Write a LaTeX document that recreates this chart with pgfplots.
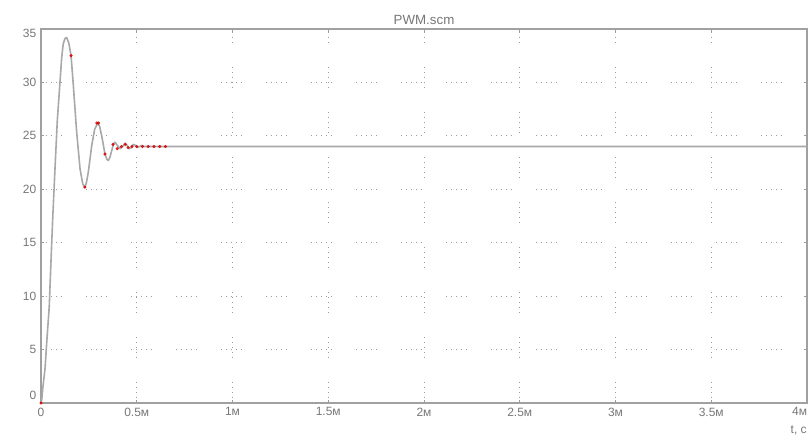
\documentclass[border=0pt]{standalone}
\usepackage{fontspec}
\setmainfont{Liberation Sans}
\usepackage{pgfplots}
\pgfplotsset{compat=1.18}
\definecolor{txt}{HTML}{777777}
\definecolor{frm}{HTML}{A0A0A0}
\definecolor{crv}{HTML}{A8A8A8}
\definecolor{grd}{HTML}{9A9A9A}
\begin{document}
\begin{tikzpicture}
\begin{axis}[
  scale only axis,
  width=574.5pt, height=280.5pt,
  xmin=0, xmax=4, ymin=0, ymax=35,
  axis line style={frm, line width=1.4pt},
  xtick={0,0.5,1,1.5,2,2.5,3,3.5,4},
  xticklabels={0,0.5м,1м,1.5м,2м,2.5м,3м,3.5м,\makebox[0pt][r]{4м}},
  ytick={0,5,10,15,20,25,30,35},
  yticklabels={\smash{\raisebox{2.5pt}{0}},5,10,15,20,25,30,\smash{\raisebox{-6.5pt}{35}}},
  tick align=inside,
  major tick length=2pt,
  tick style={grd, line width=0.6pt},
  ticklabel style={font=\fontsize{9}{10}\selectfont, text=txt},
  /pgf/number format/assume math mode=true,
  grid=major,
  major grid style={grd, line width=0.7pt, dash pattern=on 0.75pt off 3pt on 0.75pt off 3pt on 0.75pt off 3pt on 0.75pt off 3pt on 0.75pt off 18pt},
  title={PWM.scm},
  title style={font=\fontsize{10}{11}\selectfont, text=txt, yshift=-6pt},
  clip=false,
]
\addplot[crv, line width=1.2pt, line join=round] coordinates {
(0,0) (0.004,0.3) (0.010,1.5) (0.021,3.2) (0.030,5.7) (0.043,9.0) (0.052,13.2)
(0.061,17.2) (0.073,21.9) (0.085,26.4) (0.099,30.0) (0.108,32.3) (0.116,33.6)
(0.125,34.1) (0.134,34.2) (0.145,33.7) (0.157,32.5) (0.169,29.7) (0.186,25.4)
(0.204,21.9) (0.218,20.5) (0.229,20.2) (0.237,20.6) (0.247,21.6) (0.265,24.1)
(0.280,25.6) (0.296,26.2) (0.306,25.9) (0.317,25.0) (0.334,23.3) (0.344,22.8)
(0.352,22.7) (0.360,23.0) (0.369,23.6) (0.378,24.2) (0.386,24.4) (0.399,24.1)
(0.413,23.8) (0.426,24.0) (0.439,24.3) (0.450,24.1) (0.461,23.8) (0.472,23.9)
(0.482,24.2) (0.493,24.1) (0.503,23.9) (0.515,24.0) (0.526,24.1) (0.540,24.0)
(0.55,24.0) (4,24.0)
};
\addplot[only marks, mark=*, mark size=1pt, color=red!85!black, draw opacity=0.8, fill opacity=0.8] coordinates {
(0,0) (0.157,32.5) (0.229,20.2) (0.292,26.2) (0.300,26.2) (0.334,23.3)
(0.376,24.2) (0.398,23.8) (0.420,24.0) (0.440,24.2) (0.455,23.9) (0.475,24.0)
(0.50,24.0) (0.53,24.0) (0.56,24.0) (0.59,24.0) (0.62,24.0) (0.65,24.0)
};
\coordinate (sw) at (rel axis cs:0,0);
\coordinate (ne) at (rel axis cs:1,1);
\node[anchor=north east, font=\fontsize{9}{10}\selectfont, text=txt, inner sep=0pt] at ([yshift=-17pt]rel axis cs:1,0) {t, с};
\end{axis}
\pgfresetboundingbox
\path ([shift={(-30.75pt,-28.5pt)}]sw) rectangle ([shift={(2.25pt,21.75pt)}]ne);
\end{tikzpicture}
\end{document}
